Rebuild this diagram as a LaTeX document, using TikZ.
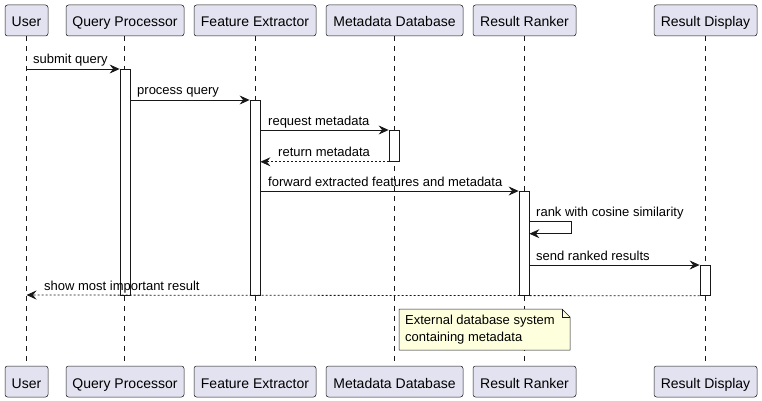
\documentclass[tikz,border=0pt]{standalone}
\usepackage{fontspec}
\setmainfont{Liberation Sans}
\usetikzlibrary{arrows.meta}
\definecolor{pfill}{HTML}{E2E2F0}
\definecolor{pborder}{HTML}{181818}
\definecolor{notefill}{HTML}{FEFFDD}
\tikzset{
  part/.style={draw=pborder, fill=pfill, rounded corners=2.5pt, minimum height=31pt, inner sep=0pt, text height=13pt, text depth=0pt, line width=0.5pt, font=\fontsize{14}{16}\selectfont},
  life/.style={draw=pborder, dash pattern=on 5pt off 5pt, line width=0.5pt},
  act/.style={draw=pborder, fill=white, minimum width=10pt, inner sep=0pt, anchor=north, line width=0.8pt},
  msg/.style={-{Stealth[length=10pt,width=9pt,inset=3.5pt]}, line width=0.8pt, draw=pborder},
  ret/.style={msg, dash pattern=on 2pt off 2pt},
  lbl/.style={font=\fontsize{13}{15}\selectfont, anchor=base west, inner sep=0pt},
}
\begin{document}
\begin{tikzpicture}[x=1pt,y=-1pt]
\useasboundingbox (0,0) rectangle (762,401);
% lifelines
\foreach \nm/\xx in {u/26.5,qp/124.5,fe/255,md/394.5,rr/524.5,rd/705}{
  \coordinate (\nm T) at (\xx,36);
  \coordinate (\nm B) at (\xx,366);
  \draw[life] (\nm T) -- (\nm B);
}
% participants
\node[part, minimum width=43pt]  (u1)  at (26.5,20.5) {User};
\node[part, minimum width=118pt] (qp1) at (125,20.5) {Query Processor};
\node[part, minimum width=122pt] (fe1) at (255,20.5) {Feature Extractor};
\node[part, minimum width=137pt] (md1) at (394.5,20.5) {Metadata Database};
\node[part, minimum width=103pt] (rr1) at (524.5,20.5) {Result Ranker};
\node[part, minimum width=103pt] (rd1) at (705.5,20.5) {Result Display};
\node[part, minimum width=43pt]  (u2)  at (26.5,381.5) {User};
\node[part, minimum width=118pt] (qp2) at (125,381.5) {Query Processor};
\node[part, minimum width=122pt] (fe2) at (255,381.5) {Feature Extractor};
\node[part, minimum width=137pt] (md2) at (394.5,381.5) {Metadata Database};
\node[part, minimum width=103pt] (rr2) at (524.5,381.5) {Result Ranker};
\node[part, minimum width=103pt] (rd2) at (705.5,381.5) {Result Display};
% activations
\node[act, minimum height=226pt] (aqp) at (125,69) {};
\node[act, minimum height=195pt] (afe) at (255,100) {};
\node[act, minimum height=31pt]  (amd) at (394,130) {};
\node[act, minimum height=104pt] (arr) at (524,191) {};
\node[act, minimum height=30pt]  (ard) at (705,265) {};
% messages
\coordinate (m1s) at (26.5,69);
\draw[msg] (m1s) -- (aqp.north west);
\node[lbl] (l1) at (33,64) {submit query};
\draw[msg] (aqp.east |- afe.north) -- (afe.north west);
\node[lbl] (l2) at (137,95) {process query};
\draw[msg] (afe.east |- amd.north) -- (amd.north west);
\node[lbl] (l3) at (268,125) {request metadata};
\draw[ret] (amd.south west) -- (afe.east |- amd.south);
\node[lbl] (l4) at (278,156) {return metadata};
\draw[msg] (afe.east |- arr.north) -- (arr.north west);
\node[lbl] (l5) at (268,186) {forward extracted features and metadata};
\coordinate (s1) at (571.7,221.7);
\coordinate (s2) at (571.7,233.7);
\draw[msg] (arr.east |- s1) -- (s1) -- (s2) -- (arr.east |- s2);
\node[lbl] (l6) at (536,216.7) {rank with cosine similarity};
\draw[msg] (arr.east |- ard.north) -- (ard.north west);
\node[lbl] (l7) at (536,260) {send ranked results};
\coordinate (uEnd) at (26.5,295);
\draw[ret] (ard.south west) -- (uEnd);
\node[lbl] (l8) at (44,290) {show most important result};
% note
\draw[draw=pborder, fill=notefill, line width=0.5pt] (399,309) -- (562,309) -- (570,317) -- (570,350) -- (399,350) -- cycle;
\draw[draw=pborder, line width=0.5pt] (562,309) -- (562,317) -- (570,317);
\node[anchor=north west, align=left, inner sep=0pt, font=\fontsize{13}{17}\selectfont] (note) at (405,314.5) {External database system\\containing metadata};
\end{tikzpicture}
\end{document}
